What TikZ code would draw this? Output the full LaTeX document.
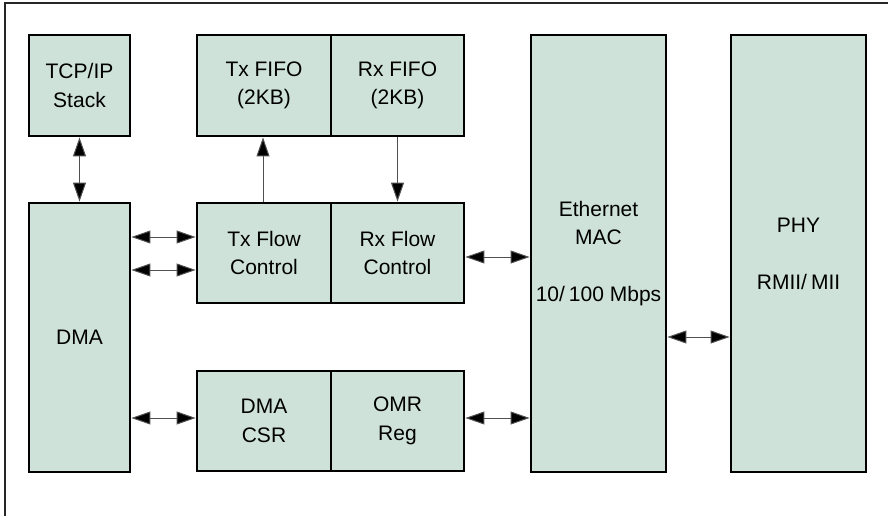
\documentclass[tikz,border=0pt]{standalone}
\usepackage{fontspec}
\setmainfont{Liberation Sans}
\usetikzlibrary{arrows.meta,positioning}
\definecolor{boxfill}{RGB}{206,226,218}
\definecolor{linegray}{RGB}{80,80,80}
\begin{document}
\begin{tikzpicture}[x=1pt,y=-1pt,
  blk/.style={draw=black,line width=2.8pt,fill=boxfill,inner sep=0pt,align=center,
    font=\fontsize{21}{28.5}\selectfont},
  conn/.style={draw=linegray,line width=1pt},
  dbl/.style={conn,{Triangle[length=19pt,width=13pt,fill=black]}-{Triangle[length=19pt,width=13pt,fill=black]}},
  sgl/.style={conn,-{Triangle[length=19pt,width=13pt,fill=black]}}]
\useasboundingbox (0,0) rectangle (888,516);
\draw[line width=2pt,black!85] (5,516) -- (5,3) -- (888,3);
% boxes
\node[blk,minimum width=101pt,minimum height=101pt] (tcp) at (79.5,85.5) {TCP/IP\\Stack};
\node[blk,minimum width=134pt,minimum height=101pt] (txfifo) at (264,85.5) {Tx FIFO\\(2KB)};
\node[blk,minimum width=133pt,minimum height=101pt] (rxfifo) at (397.5,85.5) {Rx FIFO\\(2KB)};
\node[blk,minimum width=101pt,minimum height=269pt] (dma) at (79.5,337.5) {DMA};
\node[blk,minimum width=134pt,minimum height=100pt] (txf) at (264,253) {Tx Flow\\Control};
\node[blk,minimum width=133pt,minimum height=100pt] (rxf) at (397.5,253) {Rx Flow\\Control};
\node[blk,minimum width=134pt,minimum height=100pt] (csr) at (264,421) {DMA\\CSR};
\node[blk,minimum width=133pt,minimum height=100pt] (omr) at (397.5,421) {OMR\\Reg};
\node[blk,minimum width=135pt,minimum height=437pt] (mac) at (598.5,253.5) {Ethernet\\MAC\\[28.5pt]10/\hspace{4pt}100 Mbps};
\node[blk,minimum width=135pt,minimum height=437pt] (phy) at (798.5,253.5) {PHY\\[28.5pt]RMII/\hspace{4pt}MII};
% connectors
\draw[dbl] (tcp.south) -- (dma.north);
\draw[sgl] ([xshift=-1pt]txfifo.south |- txf.north) -- ([xshift=-1pt]txfifo.south);
\draw[sgl] (rxfifo.south) -- (rxf.north);
\draw[dbl] ([yshift=16pt]txf.west -| dma.east) -- ([yshift=16pt]txf.west);
\draw[dbl] ([yshift=-17pt]txf.west -| dma.east) -- ([yshift=-17pt]txf.west);
\draw[dbl] ([yshift=-4pt]rxf.east) -- ([yshift=-4pt]rxf.east -| mac.west);
\draw[dbl] ([yshift=3pt]csr.west -| dma.east) -- ([yshift=3pt]csr.west);
\draw[dbl] ([yshift=3pt]omr.east) -- ([yshift=3pt]omr.east -| mac.west);
\draw[dbl] ([yshift=-83.5pt]mac.east) -- ([yshift=-83.5pt]mac.east -| phy.west);
\end{tikzpicture}
\end{document}
